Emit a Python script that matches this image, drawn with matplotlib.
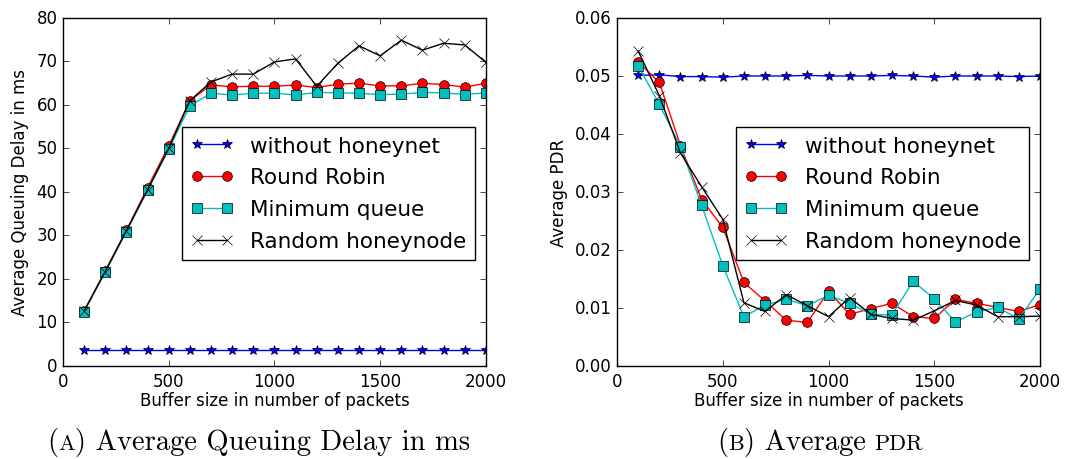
import numpy as np
import matplotlib
matplotlib.use('Agg')
import matplotlib.pyplot as plt
from matplotlib.offsetbox import TextArea, HPacker, AnchoredOffsetbox

plt.style.use('classic')
plt.rcParams['figure.facecolor'] = 'white'
plt.rcParams['savefig.facecolor'] = 'white'

buffer_size = np.arange(100, 2001, 100)

# queuing delay (ms)
delay_plain = [3.6] * 20
delay_rr = [12.6, 21.9, 31.2, 41.0, 50.6, 61.0, 64.6, 64.2, 64.3, 64.3,
            64.6, 64.0, 64.8, 65.0, 64.4, 64.4, 65.0, 64.7, 64.1, 65.0]
delay_minq = [12.5, 21.6, 30.9, 40.4, 49.8, 59.8, 62.7, 62.3, 62.7, 62.7,
              62.3, 62.9, 62.8, 62.7, 62.4, 62.5, 62.9, 62.8, 62.4, 62.8]
delay_rand = [12.65, 21.7, 31.1, 40.5, 50.0, 61.0, 65.3, 67.1, 67.1, 69.9,
              70.6, 64.3, 69.6, 73.6, 71.3, 74.9, 72.6, 74.2, 73.8, 69.8]

# packet delivery ratio
pdr_plain = [0.0501, 0.0502, 0.0499, 0.0499, 0.0498, 0.0500, 0.0500, 0.0500, 0.0501, 0.0500,
             0.0500, 0.0500, 0.0501, 0.0500, 0.0498, 0.0500, 0.0500, 0.0500, 0.0499, 0.0500]
pdr_rr = [0.0524, 0.0489, 0.0380, 0.0287, 0.0239, 0.0144, 0.0112, 0.0079, 0.0075, 0.0129,
          0.0089, 0.0099, 0.0108, 0.0085, 0.0082, 0.0115, 0.0108, 0.0101, 0.0094, 0.0106]
pdr_minq = [0.0518, 0.0451, 0.0378, 0.0277, 0.0173, 0.0085, 0.0105, 0.0115, 0.0104, 0.0122,
            0.0108, 0.0089, 0.0088, 0.0146, 0.0116, 0.0076, 0.0093, 0.0101, 0.0081, 0.0133]
pdr_rand = [0.0543, 0.0466, 0.0367, 0.0309, 0.0253, 0.0109, 0.0094, 0.0123, 0.0104, 0.0085,
            0.0118, 0.0089, 0.0082, 0.0079, 0.0095, 0.0113, 0.0105, 0.0085, 0.0085, 0.0086]

labels = ['without honeynet', 'Round Robin', 'Minimum queue', 'Random honeynode']
styles = [('b', '*'), ('r', 'o'), ('c', 's'), ('k', 'x')]

fig = plt.figure(figsize=(10.67, 4.6), dpi=100)
ax1 = fig.add_axes([0.059, 0.2022, 0.3964, 0.7565])
ax2 = fig.add_axes([0.5783, 0.2022, 0.3964, 0.7565])


def draw(ax, series):
    for ys, (col, mk), lab in zip(series, styles, labels):
        ms = 7.5 if mk == '*' else 7
        ax.plot(buffer_size, ys, color=col, marker=mk, markersize=ms,
                markeredgecolor='k', linewidth=1.0, label=lab)
    ax.set_xlim(0, 2000)
    ax.set_xticks([0, 500, 1000, 1500, 2000])
    ax.set_xlabel('Buffer size in number of packets', fontsize=12, labelpad=1)
    ax.tick_params(labelsize=12)
    ax.legend(loc='upper right', bbox_to_anchor=(0.975, 0.687), fontsize=15.5,
              numpoints=2, fancybox=False, borderaxespad=0, handlelength=2.0,
              borderpad=0.4, handletextpad=0.8, labelspacing=0.55)


draw(ax1, [delay_plain, delay_rr, delay_minq, delay_rand])
ax1.set_ylim(0, 80)
ax1.set_yticks(range(0, 81, 10))
ax1.set_ylabel('Average Queuing Delay in ms', fontsize=12)

draw(ax2, [pdr_plain, pdr_rr, pdr_minq, pdr_rand])
ax2.set_ylim(0, 0.06)
ax2.set_yticks(np.arange(0, 0.061, 0.01))
ax2.yaxis.set_major_formatter(matplotlib.ticker.FormatStrFormatter('%.2f'))
ax2.set_ylabel('Average PDR', fontsize=12)


# sub-figure captions, small caps faked with a smaller size
def caption(parts, x, y, size=20.6):
    boxes = []
    for txt, small, sep in parts:
        ta = TextArea(txt, textprops=dict(family='cmr10', size=size * 0.78 if small else size))
        boxes.append(ta)
    row = boxes[0]
    for (txt, small, sep), b in zip(parts[1:], boxes[1:]):
        row = HPacker(children=[row, b], align='baseline', pad=0, sep=sep)
    box = AnchoredOffsetbox(loc='center', child=row, frameon=False, pad=0, borderpad=0,
                            bbox_to_anchor=(x, y), bbox_transform=fig.transFigure)
    fig.add_artist(box)


caption([('(', False, 0), ('A', True, 0), (') Average Queuing Delay in ms', False, 0)],
        259 / 1067, 1 - 443 / 460)
caption([('(', False, 0), ('B', True, 0), (') Average', False, 0), ('PDR', True, 6)],
        820 / 1067, 1 - 443 / 460)

fig.savefig('out.png', dpi=100)
